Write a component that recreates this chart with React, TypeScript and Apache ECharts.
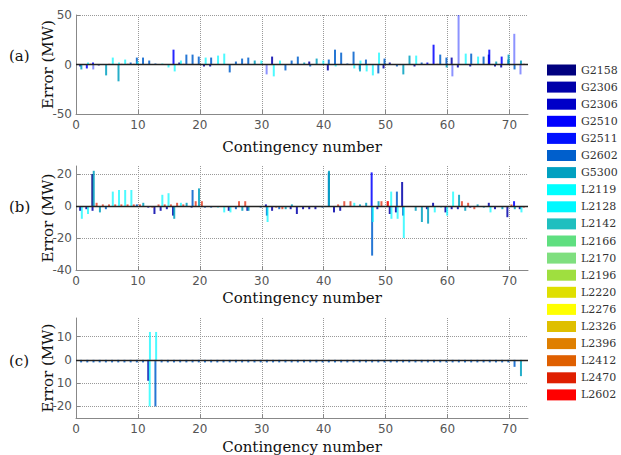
import React, { useEffect, useRef } from "react";
import * as echarts from "echarts";

type Pts = [number, number][];

const legendNames = ["G2158", "G2306", "G2306", "G2510", "G2511", "G2602", "G5300", "L2119", "L2128", "L2142", "L2166", "L2170", "L2196", "L2220", "L2276", "L2326", "L2396", "L2412", "L2470", "L2602"];
const legendColors = ["#00007f", "#0000aa", "#0000c8", "#0000ff", "#0010ff", "#005fcc", "#00a0c0", "#00ffff", "#00f8ff", "#1fbfbf", "#5fdf80", "#7fdf7f", "#9fdf3f", "#dfdf00", "#ffff00", "#dfbf00", "#df7f00", "#df5f00", "#df1f00", "#ff0000"];
const seriesOpacity = [0.85, 0.85, 0.85, 0.85, 0.45, 0.85, 0.85, 0.7, 0.7, 0.85, 0.85, 0.85, 0.85, 0.85, 0.85, 0.85, 0.85, 0.85, 0.7, 0.7];

const xMax = 73;
const panelLabels = ["(a)", "(b)", "(c)"];
const yMins = [-50, -40, -25];
const yMaxs = [50, 25, 18];
const yTicksA = [-50, 0, 50];
const yTicksB = [-40, -20, 0, 20];
const yTicksC = [-20, -10, 0, 10];
const yTickText = (v: number) => (v === -10 ? "10" : String(v));

// ---- Panel (a) ----
const a_G2306: Pts = [[1, -2], [4, -1], [17, 2], [21, -2], [22, -2], [32, 8], [38, 3], [41, -6], [50, -4], [51, 2], [55, -2], [61, 7], [62, -3], [64, -2], [67, 10], [68, -2], [69, -3]];
const a_G2510: Pts = [[2, -4], [3, 2], [16, 15], [57, 2], [58, 20], [67, 15], [69, 8]];
const a_G2511: Pts = [[3, -5], [31, -10], [61, -12], [62, 50], [71, 31], [72, -10]];
const a_G2602: Pts = [[9, 2], [10, 7], [11, 7], [12, 4], [13, 1], [18, 10], [19, 10], [20, 8], [22, 7], [25, -8], [26, 3], [27, 6], [28, 7], [34, -6], [35, 4], [36, 8], [38, -2], [41, 5], [42, 15], [43, 12], [44, 1], [45, 13], [46, -5], [47, 5], [49, -9], [50, 6], [52, -2], [56, 2], [59, 10], [60, 7], [64, 11], [66, 8], [70, 5], [71, -5]];
const a_G5300: Pts = [[1, -5], [5, -11], [7, -17], [29, 4], [37, 2], [39, 6], [46, -7], [53, -10], [54, 9], [60, -3], [68, 3], [70, 10], [72, 4]];
const a_L2128: Pts = [[2, 2], [6, 7], [7, 2], [8, 5], [10, 3], [14, 1], [15, -3], [16, -7], [17, 4], [21, 7], [23, 9], [24, 11], [30, 4], [32, -12], [33, 4], [40, 4], [42, -2], [45, -4], [46, 4], [47, -7], [48, -11], [49, 12], [55, 9], [63, 11], [65, 8]];
const a_L2602: Pts = [[2, 0.8], [5, 0.7], [7, 0.7], [8, 0.7], [9, 0.7], [17, 0.7], [27, 0.7], [58, 0.7], [72, 0.7]];

// ---- Panel (b) ----
const b_G2158: Pts = [[3, 20]];
const b_G2306: Pts = [[1, -3], [2, -2], [3, -3], [12, -1], [13, -5], [14, -3], [15, -2], [16, -6], [19, -1], [25, -3], [28, -3], [31, 1], [32, -3], [35, -2], [36, -5], [37, -2], [38, -2], [39, -2], [42, -4], [43, -3], [49, -2], [51, -5], [52, -4], [53, 15], [57, -2], [58, 2], [60, -4], [61, -2], [62, -2], [64, -1], [67, 2], [68, -2], [70, -7], [72, -2]];
const b_G2510: Pts = [[48, 21], [71, 3]];
const b_G2602: Pts = [[5, -2], [10, 1], [19, 10], [21, -1], [22, -1], [26, -2], [30, -1], [31, -6], [33, -2], [40, -1], [41, 21], [48, -31], [52, 9], [53, -6]];
const b_G5300: Pts = [[3, 22], [4, -4], [11, 2], [16, -8], [18, 2], [20, 11], [27, -3], [28, -3], [34, -2], [35, 1], [41, 22], [46, 1], [47, 2], [49, 3], [55, -3], [56, -10], [57, -11], [62, 7], [63, -3], [65, 1], [66, -1], [69, -2], [71, -2]];
const b_L2119: Pts = [[51, 9], [61, 9]];
const b_L2128: Pts = [[1, -8], [2, -5], [6, 9], [7, 10], [8, 10], [9, 10], [14, 7], [15, 8], [17, 2], [23, -1], [24, -4], [25, -4], [31, -10], [45, 2], [48, -10], [51, -8], [52, -8], [53, -20], [58, -4], [59, -1], [60, -6], [67, -4], [72, -4]];
const b_L2470: Pts = [[3, 2], [4, 1], [5, 1], [6, 1], [7, 1], [8, 1], [9, 1], [10, 1], [12, -1], [13, 1], [14, 1], [15, 1], [16, 2], [17, 1], [19, 3], [20, 3], [26, 3], [27, 3], [32, -1], [33, -2], [42, 1], [43, 3], [44, 3], [49, 3], [50, 3], [62, 3], [63, 2], [64, -2], [70, 1], [72, -1]];
const b_L2602: Pts = [[50, 3]];

// ---- Panel (c) ----
const c_G2306: Pts = [[12, -9]];
const c_G2602: Pts = [[1, -1.1], [2, -1.1], [3, -1.1], [4, -1.1], [5, -1.1], [6, -1.1], [7, -1.1], [8, -1.1], [9, -1.1], [10, -1.1], [11, -1.1], [13, -20], [14, -1.1], [15, -1.1], [16, -1.1], [17, -1.1], [18, -1.1], [19, -1.1], [20, -1.1], [21, -1.1], [22, -1.1], [23, -1.1], [24, -1.1], [25, -1.1], [26, -1.1], [27, -1.1], [28, -1.1], [29, -1.1], [30, -1.1], [31, -1.1], [32, -1.1], [33, -1.1], [34, -1.1], [35, -1.1], [36, -1.1], [37, -1.1], [38, -1.1], [39, -1.1], [40, -1.1], [41, -1.1], [42, -1.1], [43, -1.1], [44, -1.1], [45, -1.1], [46, -1.1], [47, -1.1], [48, -1.1], [49, -1.1], [50, -1.1], [51, -1.1], [52, -1.1], [53, -1.1], [54, -1.1], [55, -1.1], [56, -1.1], [57, -1.1], [58, -1.1], [59, -1.1], [60, -1.1], [61, -1.1], [62, -1.1], [63, -1.1], [64, -1.1], [65, -1.1], [66, -1.1], [67, -1.1], [68, -1.1], [69, -1.1], [70, -1.1], [71, -3]];
const c_G5300: Pts = [[72, -7]];
const c_L2119: Pts = [[12, -20]];
const c_L2128: Pts = [[12, 12], [13, 12]];

const panelA: (Pts | null)[] = [null, a_G2306, null, a_G2510, a_G2511, a_G2602, a_G5300, null, a_L2128, null, null, null, null, null, null, null, null, null, null, a_L2602];
const panelB: (Pts | null)[] = [b_G2158, b_G2306, null, b_G2510, null, b_G2602, b_G5300, b_L2119, b_L2128, null, null, null, null, null, null, null, null, null, b_L2470, b_L2602];
const panelC: (Pts | null)[] = [null, c_G2306, null, null, null, c_G2602, c_G5300, c_L2119, c_L2128, null, null, null, null, null, null, null, null, null, null, null];
const panels = [panelA, panelB, panelC];
const yTicks = [yTicksA, yTicksB, yTicksC];

const gridTops = [15, 166, 318];
const gridHeights = [99, 104, 100];
const xNameGaps = [25, 20, 21];
const labelY = [57, 208, 362];

function dense(pts: Pts | null): (number | null)[] {
  const arr: (number | null)[] = new Array(xMax + 1).fill(null);
  if (pts) for (const [x, v] of pts) arr[x] = v;
  return arr;
}

const categories = Array.from({ length: xMax + 1 }, (_, i) => String(i));
const seriesKey = (i: number) => legendNames[i] + "#" + i;

export default function App() {
  const ref = useRef<HTMLDivElement>(null);
  useEffect(() => {
    if (!ref.current) return;
    const chart = echarts.init(ref.current, undefined, { renderer: "svg" });
    const grid: any[] = [];
    const xAxis: any[] = [];
    const yAxis: any[] = [];
    const series: any[] = [];
    const axisColor = "#888";
    for (let p = 0; p < 3; p++) {
      grid.push({ left: 76, right: 93, top: gridTops[p], height: gridHeights[p] });
      xAxis.push({
        type: "category",
        gridIndex: p,
        data: categories,
        boundaryGap: false,
        axisLine: { onZero: false, lineStyle: { color: axisColor, width: 1 } },
        axisTick: { inside: true, length: 4, interval: 9, lineStyle: { color: axisColor } },
        axisLabel: { interval: 9, color: "#555", fontSize: 12, margin: 5, fontFamily: "DejaVu Sans" },
        splitLine: { show: true, interval: 9, lineStyle: { type: "dotted", color: "#999", width: 1 } },
        name: "Contingency number",
        nameLocation: "middle",
        nameGap: xNameGaps[p],
        nameMoveOverlap: false,
        nameTextStyle: { fontFamily: "DejaVu Serif", fontSize: 15, color: "#111" },
      });
      yAxis.push({
        type: "value",
        gridIndex: p,
        min: yMins[p],
        max: yMaxs[p],
        axisLine: { show: true, lineStyle: { color: axisColor, width: 1 } },
        axisTick: { show: true, inside: true, length: 4, customValues: yTicks[p], lineStyle: { color: axisColor } },
        axisLabel: { customValues: yTicks[p], color: "#555", fontSize: 12, margin: 4, fontFamily: "DejaVu Sans", formatter: (v: number) => yTickText(v) },
        splitLine: { show: true, lineStyle: { type: "dotted", color: "#999", width: 1 } },
        name: "Error (MW)",
        nameLocation: "middle",
        nameGap: 21,
        nameMoveOverlap: false,
        nameRotate: 90,
        nameTextStyle: { fontFamily: "DejaVu Serif", fontSize: 15, color: "#111" },
      });
      for (let s = 0; s < legendNames.length; s++) {
        const item: any = {
          type: "bar",
          name: seriesKey(s),
          xAxisIndex: p,
          yAxisIndex: p,
          data: dense(panels[p][s]),
          barWidth: 2,
          barGap: "-88%",
          silent: true,
          itemStyle: { color: legendColors[s], opacity: seriesOpacity[s] },
        };
        if (s === 0) {
          item.markLine = {
            silent: true,
            symbol: ["none", "none"],
            label: { show: false },
            lineStyle: { color: "#222", width: 1.4, type: "solid" },
            data: [{ yAxis: 0 }],
          };
        }
        series.push(item);
      }
    }
    chart.setOption({
      animation: false,
      backgroundColor: "#ffffff",
      grid,
      xAxis,
      yAxis,
      series,
      legend: {
        orient: "vertical",
        left: 547,
        top: 64,
        padding: 0,
        itemWidth: 29,
        itemHeight: 11,
        itemGap: 5.1,
        icon: "rect",
        selectedMode: false,
        data: legendNames.map((_, i) => seriesKey(i)),
        formatter: (n: string) => n.split("#")[0],
        itemStyle: { opacity: 1 },
        textStyle: { fontFamily: "DejaVu Serif", fontSize: 11, color: "#333", lineHeight: 12 },
      },
      graphic: panelLabels.map((t, i) => ({
        type: "text",
        left: 9,
        top: labelY[i] - 9,
        style: { text: t, fontFamily: "DejaVu Serif", fontSize: 15, fill: "#111" },
      })),
    });
    return () => chart.dispose();
  }, []);
  return <div ref={ref} style={{ position: "fixed", left: 0, top: 0, width: 621, height: 455 }} />;
}
